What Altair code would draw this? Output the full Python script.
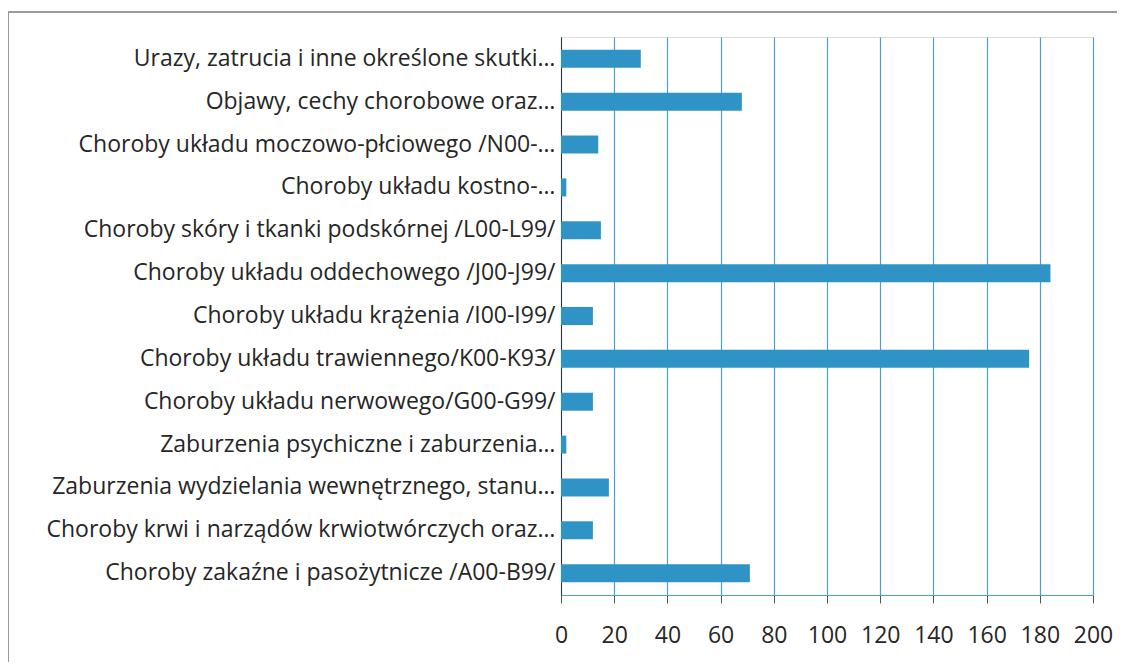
import altair as alt
import pandas as pd

categories = [
    "Urazy, zatrucia i inne określone skutki…",
    "Objawy, cechy chorobowe oraz…",
    "Choroby układu moczowo-płciowego /N00-…",
    "Choroby układu kostno-…",
    "Choroby skóry i tkanki podskórnej /L00-L99/",
    "Choroby układu oddechowego /J00-J99/",
    "Choroby układu krążenia /I00-I99/",
    "Choroby układu trawiennego/K00-K93/",
    "Choroby układu nerwowego/G00-G99/",
    "Zaburzenia psychiczne i zaburzenia…",
    "Zaburzenia wydzielania wewnętrznego, stanu…",
    "Choroby krwi i narządów krwiotwórczych oraz…",
    "Choroby zakaźne i pasożytnicze /A00-B99/",
]
values = [30, 68, 14, 2, 15, 184, 12, 176, 12, 2, 18, 12, 71]
x_ticks = [0, 20, 40, 60, 80, 100, 120, 140, 160, 180, 200]

df = pd.DataFrame({"kat": categories, "n": values})

FONT = "Open Sans"
BLUE = "#2f93c5"
GRID = "#4aa0d4"
TEXT = "#262626"

bars = alt.Chart(df).mark_bar(color=BLUE).encode(
    x=alt.X(
        "n:Q",
        scale=alt.Scale(domain=[0, 200], nice=False),
        axis=alt.Axis(
            title=None,
            values=x_ticks,
            grid=True,
            gridColor=GRID,
            gridWidth=1.2,
            domainColor=GRID,
            domainWidth=1.2,
            tickColor="#555555",
            tickSize=8,
            labelPadding=21,
            labelOverlap=False,
            labelFlush=False,
            labelFont=FONT,
            labelFontSize=23,
            labelColor=TEXT,
        ),
    ),
    y=alt.Y(
        "kat:N",
        sort=categories,
        scale=alt.Scale(paddingInner=0.58, paddingOuter=0.3),
        axis=alt.Axis(
            title=None,
            ticks=False,
            labelPadding=6,
            labelLimit=600,
            labelFont=FONT,
            labelFontSize=23,
            labelColor=TEXT,
            domainColor="#333333",
            domainWidth=1,
        ),
    ),
)

frame_top = alt.Chart(df).mark_rule(color="#9a9a9a", strokeWidth=1.5).encode(
    x=alt.value(-553), x2=alt.value(572), y=alt.value(-25)
)
frame_left = alt.Chart(df).mark_rule(color="#9a9a9a", strokeWidth=1.5).encode(
    x=alt.value(-553), y=alt.value(-25), y2=alt.value(640)
)

chart = (
    alt.layer(bars, frame_top, frame_left)
    .properties(
        width=532,
        height=558,
        autosize=alt.AutoSizeParams(type="none"),
        padding={"left": 553, "top": 29, "right": 24, "bottom": 67},
    )
    .configure_view(stroke=None)
    .configure(background="white")
)

chart.save("out.html", embed_options={"renderer": "svg", "actions": False})
